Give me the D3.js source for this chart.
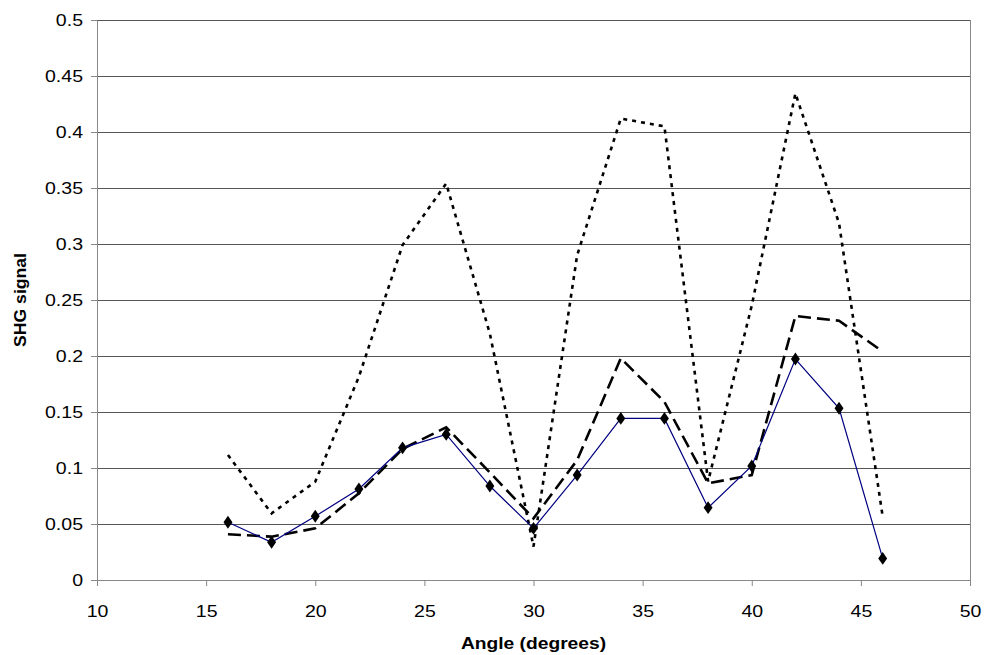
<!DOCTYPE html>
<html>
<head>
<meta charset="utf-8">
<script src="https://cdn.jsdelivr.net/npm/d3@7"></script>
<style>
  body { margin: 0; background: #fff; }
  text { font-family: "Liberation Sans", Arial, sans-serif; }
</style>
</head>
<body>
<div id="chart"></div>
<script>
// Chart data
var angles = [16, 18, 20, 22, 24, 26, 28, 30, 32, 34, 36, 38, 40, 42, 44, 46];
var solidSeries = [0.0515, 0.0337, 0.0569, 0.0812, 0.118, 0.130, 0.0839, 0.0461, 0.0937, 0.1443, 0.1443, 0.0646, 0.1018, 0.1973, 0.1533, 0.0193];
var dashedSeries = [0.0408, 0.0387, 0.0461, 0.0774, 0.117, 0.1363, 0.096, 0.055, 0.107, 0.198, 0.159, 0.0863, 0.0937, 0.2357, 0.2315, 0.2039];
var dottedSeries = [0.1116, 0.0595, 0.0878, 0.1815, 0.299, 0.354, 0.22, 0.0298, 0.29, 0.412, 0.405, 0.088, 0.245, 0.4345, 0.3185, 0.0565];
var xTicks = [10, 15, 20, 25, 30, 35, 40, 45, 50];
var yTicks = [0, 0.05, 0.1, 0.15, 0.2, 0.25, 0.3, 0.35, 0.4, 0.45, 0.5];

var svgWidth = 984;
var svgHeight = 655;
var margin = { top: 20, right: 14, bottom: 75, left: 97 };
var width = svgWidth - margin.left - margin.right;
var height = svgHeight - margin.top - margin.bottom;

var svg = d3.select("#chart")
  .append("svg")
  .attr("width", svgWidth)
  .attr("height", svgHeight);

var chartGroup = svg.append("g")
  .attr("transform", `translate(${margin.left}, ${margin.top})`);

var xScale = d3.scaleLinear().domain([10, 50]).range([0, width]);
var yScale = d3.scaleLinear().domain([0, 0.5]).range([height, 0]);

// the text in the original is a bit wider than plain Arial
function stretch(sel, k) {
  sel.each(function() {
    var w = this.getComputedTextLength();
    d3.select(this)
      .attr("textLength", w * k)
      .attr("lengthAdjust", "spacingAndGlyphs");
  });
}

// Gridlines
chartGroup.append("g")
  .selectAll("line")
  .data(yTicks.slice(1))
  .enter()
  .append("line")
  .attr("x1", 0)
  .attr("x2", width)
  .attr("y1", d => Math.round(yScale(d)) + 0.5)
  .attr("y2", d => Math.round(yScale(d)) + 0.5)
  .attr("stroke", "#555")
  .attr("stroke-width", 1);

// right border
chartGroup.append("line")
  .attr("x1", width + 0.5).attr("x2", width + 0.5)
  .attr("y1", 0).attr("y2", height)
  .attr("stroke", "#888");

// Axes
var bottomAxis = d3.axisBottom(xScale).tickValues(xTicks).tickSize(6).tickSizeOuter(0).tickPadding(20);
var leftAxis = d3.axisLeft(yScale).tickValues(yTicks).tickSize(6).tickSizeOuter(0).tickPadding(8)
  .tickFormat(d => String(+d.toFixed(2)));

var xAxisG = chartGroup.append("g")
  .attr("transform", `translate(0, ${height})`)
  .call(bottomAxis);

var yAxisG = chartGroup.append("g")
  .call(leftAxis);

[xAxisG, yAxisG].forEach(function(g) {
  g.select(".domain").attr("stroke", "#888");
  g.selectAll(".tick line").attr("stroke", "#888");
  g.selectAll(".tick text")
    .style("font-family", "'Liberation Sans', Arial, sans-serif")
    .style("font-size", "16px")
    .attr("fill", "#000")
    .call(stretch, 1.22);
});

// Axis titles
chartGroup.append("text")
  .attr("transform", "rotate(-90)")
  .attr("x", -height / 2)
  .attr("y", -margin.left + 26)
  .style("text-anchor", "middle")
  .style("font-size", "16px")
  .style("font-weight", "bold")
  .text("SHG signal")
  .call(stretch, 1.1);

chartGroup.append("text")
  .attr("x", width / 2)
  .attr("y", height + 69)
  .style("text-anchor", "middle")
  .style("font-size", "16px")
  .style("font-weight", "bold")
  .text("Angle (degrees)")
  .call(stretch, 1.2);

// Lines
var line = d3.line()
  .x((d, i) => xScale(angles[i]))
  .y(d => yScale(d));

chartGroup.append("path")
  .datum(dottedSeries)
  .attr("d", line)
  .attr("fill", "none")
  .attr("stroke", "#000")
  .attr("stroke-width", 2.6)
  .attr("stroke-dasharray", "4,5");

chartGroup.append("path")
  .datum(dashedSeries)
  .attr("d", line)
  .attr("fill", "none")
  .attr("stroke", "#000")
  .attr("stroke-width", 2.6)
  .attr("stroke-dasharray", "13,6");

chartGroup.append("path")
  .datum(solidSeries)
  .attr("d", line)
  .attr("fill", "none")
  .attr("stroke", "#000080")
  .attr("stroke-width", 1.2);

// Markers
chartGroup.selectAll(".marker")
  .data(solidSeries)
  .enter()
  .append("path")
  .attr("class", "marker")
  .attr("d", d3.symbol().type(d3.symbolDiamond).size(48))
  .attr("transform", (d, i) => `translate(${xScale(angles[i])}, ${yScale(d)}) scale(1.2, 1)`)
  .attr("fill", "#000");
</script>
</body>
</html>
